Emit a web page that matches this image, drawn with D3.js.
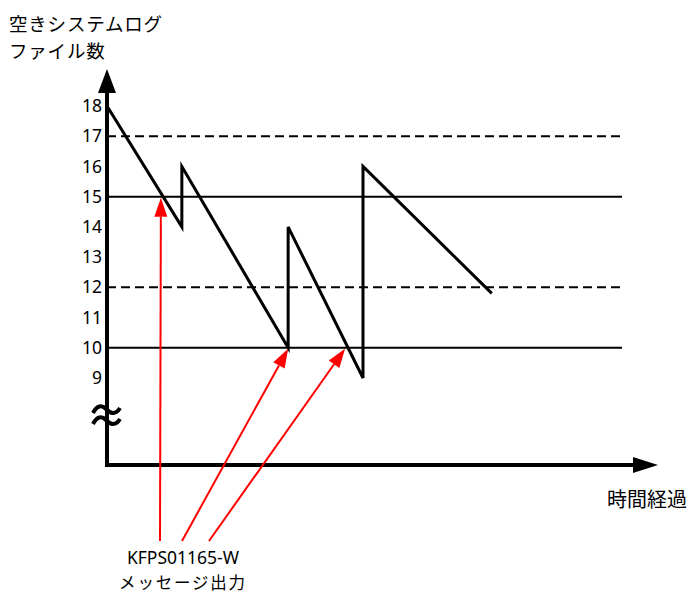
<!DOCTYPE html>
<html>
<head>
<meta charset="utf-8">
<script src="https://cdn.jsdelivr.net/npm/d3@7"></script>
<style>
  body { margin: 0; background: #fff; }
  text { font-family: "Noto Sans CJK JP", "Noto Sans", sans-serif; fill: #000; }
  .tick text { font-family: "Noto Sans", sans-serif; font-size: 17.5px; }
</style>
</head>
<body>
<script>
// data: free system log files over time (time in arbitrary units)
var times  = [0, 2.5, 2.5, 6.05, 6.05, 8.55, 8.55, 12.85];
var counts = [18, 14, 16, 10, 14, 9, 16, 11.8];
var yTicks = [9, 10, 11, 12, 13, 14, 15, 16, 17, 18];
var solidLevels = [10, 15];
var dashedLevels = [12, 17];
// message output points (where the arrows point)
var msgTimes  = [1.8, 6.05, 7.95];
var msgLevels = [15, 10, 10];
var msgId = "KFPS01165-W";
var msgText = "メッセージ出力";

var width = 694, height = 594;
var axisX = 107, axisY = 465;

var x = d3.scaleLinear().domain([0, 17.2]).range([axisX, 622]);
var y = d3.scaleLinear().domain([9, 18]).range([378, 106]);

var svg = d3.select("body").append("svg")
    .attr("width", width)
    .attr("height", height);

// reference levels
svg.selectAll(".solid")
    .data(solidLevels)
  .enter().append("line")
    .attr("x1", x(0)).attr("x2", x(17.2))
    .attr("y1", function(d) { return y(d); })
    .attr("y2", function(d) { return y(d); })
    .attr("stroke", "#000").attr("stroke-width", 2);

svg.selectAll(".dashed")
    .data(dashedLevels)
  .enter().append("line")
    .attr("x1", x(0)).attr("x2", x(17.2))
    .attr("y1", function(d) { return y(d); })
    .attr("y2", function(d) { return y(d); })
    .attr("stroke", "#000").attr("stroke-width", 2)
    .attr("stroke-dasharray", "9,5");

// sawtooth line
var pts = times.map(function(t, i) { return [t, counts[i]]; });
svg.append("path")
    .datum(pts)
    .attr("fill", "none")
    .attr("stroke", "#000")
    .attr("stroke-width", 3)
    .attr("d", d3.line()
      .x(function(d) { return x(d[0]); })
      .y(function(d) { return y(d[1]); }));

// axes
svg.append("line")
    .attr("x1", axisX).attr("x2", axisX)
    .attr("y1", axisY + 2).attr("y2", 90)
    .attr("stroke", "#000").attr("stroke-width", 4);
svg.append("path")
    .attr("d", "M" + axisX + ",69L" + (axisX - 9) + ",93L" + (axisX + 9) + ",93Z")
    .attr("fill", "#000");

svg.append("line")
    .attr("x1", axisX - 2).attr("x2", 636)
    .attr("y1", axisY).attr("y2", axisY)
    .attr("stroke", "#000").attr("stroke-width", 4);
svg.append("path")
    .attr("d", "M658," + axisY + "L633," + (axisY - 8) + "L633," + (axisY + 8) + "Z")
    .attr("fill", "#000");

var yAxis = svg.append("g")
    .attr("transform", "translate(" + (axisX - 5) + ",0)")
    .call(d3.axisLeft(y).tickValues(yTicks).tickSize(0).tickPadding(0));
yAxis.select(".domain").remove();
yAxis.selectAll(".tick text").attr("fill", "#000");

// axis break mark
svg.append("path")
    .attr("d", "M93,413 C97,405 102,405 106,409 S115,416 120,408 M93,424 C97,416 102,416 106,420 S115,427 120,419")
    .attr("fill", "none")
    .attr("stroke", "#000")
    .attr("stroke-width", 4);

// axis titles
svg.append("text").attr("x", 9).attr("y", 31)
    .style("font-size", "18.5px").style("letter-spacing", "0.8px")
    .text("空きシステムログ");
svg.append("text").attr("x", 9).attr("y", 58)
    .style("font-size", "18.5px").style("letter-spacing", "0.8px")
    .text("ファイル数");
svg.append("text").attr("x", 607).attr("y", 507)
    .style("font-size", "20px").text("時間経過");

// red arrows to message points
var tails = [[160, 541], [182, 541], [209, 541]];
msgTimes.forEach(function(t, i) {
  var tx = x(t), ty = y(msgLevels[i]) + 1;
  var sx = tails[i][0], sy = tails[i][1];
  var dx = tx - sx, dy = ty - sy, len = Math.sqrt(dx * dx + dy * dy);
  var ux = dx / len, uy = dy / len;
  var hl = 19, hw = 6.5;
  var bx = tx - ux * hl, by = ty - uy * hl;
  svg.append("line")
      .attr("x1", sx).attr("y1", sy)
      .attr("x2", bx).attr("y2", by)
      .attr("stroke", "#ff0000").attr("stroke-width", 2);
  svg.append("path")
      .attr("d", "M" + tx + "," + ty +
                 "L" + (bx - uy * hw) + "," + (by + ux * hw) +
                 "L" + (bx + uy * hw) + "," + (by - ux * hw) + "Z")
      .attr("fill", "#ff0000");
});

svg.append("text").attr("x", 183).attr("y", 564)
    .attr("text-anchor", "middle")
    .style("font-family", "'Noto Sans', sans-serif")
    .style("font-size", "17.5px").text(msgId);
svg.append("text").attr("x", 183).attr("y", 589)
    .attr("text-anchor", "middle")
    .style("font-size", "16.5px").style("letter-spacing", "1.8px")
    .text(msgText);
</script>
</body>
</html>
